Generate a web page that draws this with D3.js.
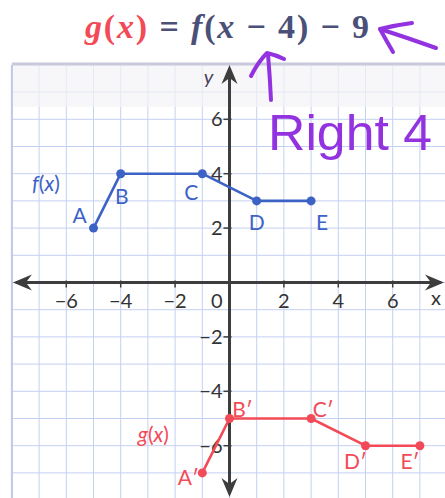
<!DOCTYPE html>
<html>
<head>
<meta charset="utf-8">
<script src="https://cdn.jsdelivr.net/npm/d3@7"></script>
<style>
  html, body { margin: 0; padding: 0; background: #fff; }
  svg { display: block; }
</style>
</head>
<body>
<svg id="chart" width="445" height="498"></svg>
<script>
// Original piecewise-linear function f and its transform g(x) = f(x - 4) - 9
const fNames = ["A", "B", "C", "D", "E"];
const fX = [-5, -4, -1, 1, 3];
const fY = [2, 4, 4, 3, 3];

const gNames = ["A\u2032", "B\u2032", "C\u2032", "D\u2032", "E\u2032"];
const gX = [-1, 0, 3, 5, 7];
const gY = [-7, -5, -5, -6, -6];

const xTicks = [-6, -4, -2, 2, 4, 6];
const yTicks = [6, 4, 2, -2, -4, -6];
const gridRange = [-8, 8];

const svg = d3.select("#chart");
const W = 445, H = 498;

const unit = 27.2;
const ox = 229.5, oy = 282.5;
const x = d3.scaleLinear().domain(gridRange).range([ox - 8 * unit, ox + 8 * unit]);
const y = d3.scaleLinear().domain(gridRange).range([oy + 8 * unit, oy - 8 * unit]);

const blue = "#3d62c6";
const red = "#f24b57";
const purple = "#9333e0";
const axisCol = "#3d3d3d";
const labelCol = "#333";
const sans = "Lato, 'Open Sans', sans-serif";

// ---- grid ----
const grid = svg.append("g");
const ints = d3.range(gridRange[0], gridRange[1] + 1);
grid.selectAll("line.v").data(ints).join("line")
  .attr("x1", d => x(d)).attr("x2", d => x(d))
  .attr("y1", y(8)).attr("y2", H)
  .attr("stroke", "#c4d0f0").attr("stroke-width", 1);
grid.selectAll("line.h").data(ints).join("line")
  .attr("x1", x(-8)).attr("x2", W)
  .attr("y1", d => y(d)).attr("y2", d => y(d))
  .attr("stroke", "#c4d0f0").attr("stroke-width", 1);

// washed-out strip along the top of the grid
grid.append("rect")
  .attr("x", x(-8)).attr("y", y(8))
  .attr("width", W - x(-8)).attr("height", y(6.45) - y(8))
  .attr("fill", "#f3f3f6").attr("opacity", 0.7);
grid.append("line")
  .attr("x1", x(-8)).attr("x2", W).attr("y1", y(8) - 1).attr("y2", y(8) - 1)
  .attr("stroke", "#c9c9de").attr("stroke-width", 3);
grid.append("line")
  .attr("x1", x(-8)).attr("x2", x(-8)).attr("y1", y(8)).attr("y2", H)
  .attr("stroke", "#c0c8ea").attr("stroke-width", 2);

// ---- axes ----
const axes = svg.append("g");
function arrowHead(tipX, tipY, angle) {
  // notched arrowhead pointing along `angle` (radians)
  const L = 19, hw = 8, notch = 6;
  const pts = [[0, 0], [-L, -hw], [-L + notch, 0], [-L, hw]];
  const c = Math.cos(angle), s = Math.sin(angle);
  const p = pts.map(([a, b]) => [tipX + a * c - b * s, tipY + a * s + b * c]);
  axes.append("path")
    .attr("d", "M" + p.map(q => q.join(",")).join("L") + "Z")
    .attr("fill", axisCol);
}
axes.append("line")
  .attr("x1", x(-8) + 4).attr("x2", W - 4).attr("y1", y(0)).attr("y2", y(0))
  .attr("stroke", axisCol).attr("stroke-width", 3);
axes.append("line")
  .attr("x1", x(0)).attr("x2", x(0)).attr("y1", y(8) + 4).attr("y2", H - 4)
  .attr("stroke", axisCol).attr("stroke-width", 3);
arrowHead(x(-8) + 1, y(0), Math.PI);
arrowHead(W - 1, y(0), 0);
arrowHead(x(0), y(8), -Math.PI / 2);
arrowHead(x(0), H - 1, Math.PI / 2);

// ticks
axes.selectAll("line.xt").data(xTicks).join("line")
  .attr("x1", d => x(d)).attr("x2", d => x(d))
  .attr("y1", y(0) - 2).attr("y2", y(0) + 5)
  .attr("stroke", axisCol).attr("stroke-width", 1.5);
axes.selectAll("line.yt").data(yTicks).join("line")
  .attr("x1", x(0) - 6).attr("x2", x(0) + 2)
  .attr("y1", d => y(d)).attr("y2", d => y(d))
  .attr("stroke", axisCol).attr("stroke-width", 1.5);

const fmt = d => (d < 0 ? "\u2212" + Math.abs(d) : String(d));
axes.selectAll("text.xl").data(xTicks).join("text")
  .attr("x", d => x(d)).attr("y", y(0) + 25)
  .attr("text-anchor", "middle")
  .attr("font-family", sans).attr("font-size", 20)
  .attr("fill", labelCol).text(fmt);
axes.selectAll("text.yl").data(yTicks).join("text")
  .attr("x", x(0) - 7).attr("y", d => y(d) + 7)
  .attr("text-anchor", "end")
  .attr("font-family", sans).attr("font-size", 20)
  .attr("fill", labelCol).text(fmt);
axes.append("text")
  .attr("x", x(0) - 7).attr("y", y(0) + 25)
  .attr("text-anchor", "end")
  .attr("font-family", sans).attr("font-size", 20)
  .attr("fill", labelCol).text("0");
axes.append("text")
  .attr("x", W - 9).attr("y", y(0) + 22)
  .attr("text-anchor", "middle")
  .attr("font-family", sans).attr("font-size", 20)
  .attr("fill", labelCol).text("x");
axes.append("text")
  .attr("x", x(0) - 21).attr("y", y(8) + 19)
  .attr("text-anchor", "middle")
  .attr("font-family", sans).attr("font-size", 20)
  .attr("font-style", "italic")
  .attr("fill", "#4a3f5c").text("y");

// ---- function graphs ----
function drawSeries(xs, ys, names, color, offsets, fnLabel, fnPos) {
  const pts = xs.map((v, i) => ({ x: v, y: ys[i], name: names[i], off: offsets[i] }));
  const g = svg.append("g");
  g.append("path")
    .datum(pts)
    .attr("d", d3.line().x(d => x(d.x)).y(d => y(d.y)))
    .attr("fill", "none").attr("stroke", color).attr("stroke-width", 2.6)
    .attr("stroke-linejoin", "round");
  g.selectAll("circle").data(pts).join("circle")
    .attr("cx", d => x(d.x)).attr("cy", d => y(d.y)).attr("r", 4.5)
    .attr("fill", color);
  g.selectAll("text.pt").data(pts).join("text")
    .attr("x", d => x(d.x) + d.off[0]).attr("y", d => y(d.y) + d.off[1])
    .attr("text-anchor", "middle")
    .attr("font-family", sans).attr("font-size", 21)
    .attr("fill", color).text(d => d.name);
  const t = g.append("text")
    .attr("x", fnPos[0]).attr("y", fnPos[1])
    .attr("text-anchor", "middle")
    .attr("font-family", sans).attr("font-size", 21)
    .attr("fill", color);
  t.append("tspan").attr("font-style", "italic").text(fnLabel);
  t.append("tspan").text("(");
  t.append("tspan").attr("font-style", "italic").text("x");
  t.append("tspan").text(")");
}

drawSeries(fX, fY, fNames, blue,
  [[-14, -5], [1, 30], [-11, 26], [0, 29], [11, 29]],
  "f", [x(-6.75), y(3.35)]);
drawSeries(gX, gY, gNames, red,
  [[-14, 12], [13, -2], [12, -2], [-10, 23], [-10, 23]],
  "g", [x(-2.8), y(-5.85)]);

// ---- title ----
const title = svg.append("text")
  .attr("x", 227).attr("y", 38)
  .attr("text-anchor", "middle")
  .attr("textLength", 284).attr("lengthAdjust", "spacing")
  .attr("font-family", "'Liberation Serif', 'DejaVu Serif', serif")
  .attr("font-size", 34).attr("font-weight", "bold")
  .attr("fill", "#4a5078");
const parts = [
  ["g", true, red], ["(", false, red], ["x", true, red], [")", false, red],
  [" = ", false, null], ["f", true, null], ["(", false, null], ["x", true, null],
  [" \u2212 4", false, null], [")", false, null], [" \u2212 9", false, null]
];
parts.forEach(([s, it, c]) => {
  const t = title.append("tspan").text(s);
  if (it) t.attr("font-style", "italic");
  if (c) t.attr("fill", c);
});

// ---- handwritten notes ----
const notes = svg.append("g")
  .attr("fill", "none").attr("stroke", purple).attr("stroke-width", 4)
  .attr("stroke-linecap", "round").attr("stroke-linejoin", "round");
notes.append("path").attr("d", "M271,100 Q270,78 268,54");
notes.append("path").attr("d", "M251,76 Q258,62 267,53 Q276,55 284,59");
notes.append("path").attr("d", "M436,48 Q408,38 380,29");
notes.append("path").attr("d", "M393,52 Q386,40 380,29 Q396,25 412,23");

svg.append("text")
  .attr("x", 268).attr("y", 150)
  .attr("textLength", 164).attr("lengthAdjust", "spacingAndGlyphs")
  .attr("font-family", "'Liberation Sans', sans-serif").attr("font-size", 50)
  .attr("fill", purple).text("Right 4");
</script>
</body>
</html>
